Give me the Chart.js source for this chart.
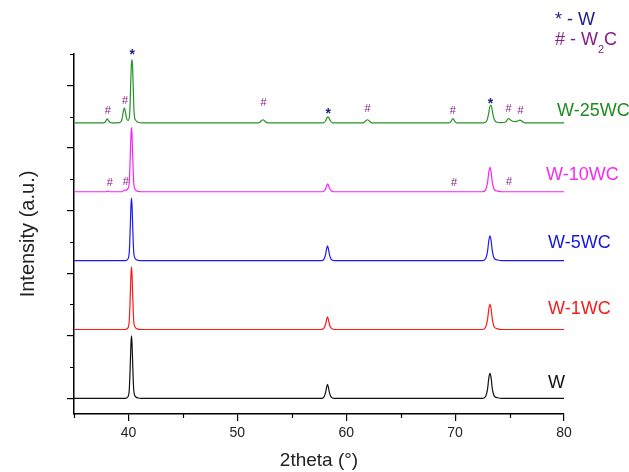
<!DOCTYPE html>
<html>
<head>
<meta charset="utf-8">
<script src="https://cdn.jsdelivr.net/npm/chart.js@4.4.1/dist/chart.umd.min.js"></script>
<style>
  html, body { margin: 0; padding: 0; background: #fff; }
  #wrap { width: 629px; height: 472px; }
</style>
</head>
<body>
<div id="wrap"><canvas id="xrd" width="629" height="472"></canvas></div>
<script>
// Muestras (de abajo hacia arriba) y desplazamiento vertical de cada patrón
const sampleNames = ['W', 'W-1WC', 'W-5WC', 'W-10WC', 'W-25WC'];
const offsets = [0, 2.2, 4.4, 6.6, 8.8];

// Ejes
const xMajorTicks = [40, 50, 60, 70, 80];
const xMinorTicks = [35, 45, 55, 65, 75];
const yMajorTicks = [0, 2, 4, 6, 8, 10];
const yMinorTicks = [1, 3, 5, 7, 9, 11];

// Patrones (2theta, intensidad relativa a su línea base)
const wAngle = [35, 39.7, 39.95, 40.08, 40.17, 40.23, 40.28, 40.33, 40.39, 40.48, 40.62, 40.9, 41.2,
  57.7, 57.95, 58.1, 58.2, 58.28, 58.36, 58.46, 58.62, 58.9,
  72.5, 72.8, 72.98, 73.1, 73.2, 73.3, 73.42, 73.6, 73.9, 74.3, 80];
const wInt = [0, 0, 0.05, 0.3, 1.1, 1.75, 2.0, 1.75, 1.1, 0.3, 0.07, 0.01, 0,
  0, 0.04, 0.18, 0.36, 0.45, 0.36, 0.18, 0.04, 0,
  0, 0.06, 0.3, 0.66, 0.8, 0.66, 0.3, 0.07, 0.02, 0, 0];

const w1Angle = [35, 39.7, 39.95, 40.08, 40.17, 40.23, 40.28, 40.33, 40.39, 40.48, 40.62, 40.9, 41.2,
  57.7, 57.95, 58.1, 58.2, 58.28, 58.36, 58.46, 58.62, 58.9,
  72.5, 72.8, 72.98, 73.1, 73.2, 73.3, 73.42, 73.6, 73.9, 74.3, 80];
const w1Int = [0, 0, 0.05, 0.3, 1.1, 1.75, 2.0, 1.75, 1.1, 0.3, 0.07, 0.01, 0,
  0, 0.04, 0.16, 0.32, 0.4, 0.32, 0.16, 0.04, 0,
  0, 0.07, 0.32, 0.67, 0.8, 0.67, 0.32, 0.08, 0.02, 0, 0];

const w5Angle = [35, 39.7, 39.95, 40.08, 40.17, 40.23, 40.28, 40.33, 40.39, 40.48, 40.62, 40.9, 41.2,
  57.7, 57.95, 58.1, 58.2, 58.28, 58.36, 58.46, 58.62, 58.9,
  72.5, 72.8, 72.98, 73.1, 73.2, 73.3, 73.42, 73.6, 73.9, 74.3, 80];
const w5Int = [0, 0, 0.05, 0.3, 1.1, 1.75, 2.0, 1.75, 1.1, 0.3, 0.07, 0.01, 0,
  0, 0.04, 0.19, 0.38, 0.47, 0.38, 0.19, 0.04, 0,
  0, 0.06, 0.3, 0.65, 0.79, 0.65, 0.3, 0.07, 0.02, 0, 0];

const w10Angle = [35, 37.9, 38.1, 38.3, 39.4, 39.6, 39.75, 39.95, 40.08, 40.17, 40.23, 40.28, 40.33, 40.39, 40.48, 40.62, 40.9, 41.2,
  57.75, 58.0, 58.12, 58.22, 58.3, 58.38, 58.48, 58.62, 58.85,
  72.5, 72.8, 72.98, 73.1, 73.2, 73.3, 73.42, 73.6, 73.9, 74.3, 80];
const w10Int = [0, 0, 0.02, 0, 0, 0.04, 0.05, 0.1, 0.32, 1.15, 1.8, 2.05, 1.8, 1.15, 0.32, 0.07, 0.01, 0,
  0, 0.03, 0.1, 0.2, 0.25, 0.2, 0.1, 0.03, 0,
  0, 0.06, 0.3, 0.64, 0.78, 0.64, 0.3, 0.07, 0.02, 0, 0];

const w25Angle = [35, 37.7, 37.85, 37.95, 38.05, 38.15, 38.3, 38.5,
  39.2, 39.4, 39.52, 39.62, 39.72, 39.85, 39.98, 40.12, 40.2, 40.26, 40.32, 40.38, 40.44, 40.52, 40.67, 40.9, 41.3,
  51.95, 52.15, 52.35, 52.55, 52.75,
  57.9, 58.1, 58.22, 58.32, 58.42, 58.55, 58.75,
  61.55, 61.75, 61.95, 62.15, 62.35,
  69.45, 69.65, 69.8, 69.95, 70.15,
  72.6, 72.9, 73.07, 73.18, 73.27, 73.36, 73.47, 73.62, 73.85, 74.2,
  74.6, 74.8, 74.92, 75.05, 75.3, 75.5, 75.75, 75.95, 76.15, 76.4, 80];
const w25Int = [0, 0, 0.02, 0.08, 0.13, 0.08, 0.02, 0,
  0.01, 0.1, 0.35, 0.48, 0.35, 0.12, 0.08, 0.32, 1.15, 1.8, 2.02, 1.8, 1.15, 0.32, 0.08, 0.02, 0,
  0, 0.05, 0.1, 0.05, 0,
  0, 0.06, 0.15, 0.19, 0.15, 0.06, 0,
  0, 0.05, 0.1, 0.05, 0,
  0, 0.06, 0.14, 0.06, 0,
  0, 0.06, 0.28, 0.5, 0.57, 0.5, 0.28, 0.09, 0.02, 0.01,
  0.02, 0.1, 0.14, 0.1, 0.05, 0.04, 0.06, 0.09, 0.05, 0, 0];

// Marcas de fase (* = W, # = W2C)
const w25MarkAngle = [38.1, 39.7, 40.35, 52.4, 58.35, 61.95, 69.8, 73.25, 74.9, 76.0];
const w25MarkSymbol = ['#', '#', '*', '#', '*', '#', '#', '*', '#', '#'];
const w25MarkLevel = [0.39, 0.71, 2.28, 0.62, 0.42, 0.46, 0.39, 0.72, 0.46, 0.37];
const w10MarkAngle = [38.28, 39.75, 69.9, 74.95];
const w10MarkSymbol = ['#', '#', '#', '#'];
const w10MarkLevel = [0.29, 0.3, 0.29, 0.32];

const FONT = '"Liberation Sans", Arial, sans-serif';
const lineColors = ['#111111', '#f41c1c', '#1c1cf0', '#f526f5', '#269326'];
const textColors = ['#111111', '#f41c1c', '#1818d8', '#f52cf0', '#1e8c1e'];
const STAR_COLOR = '#1c1c86';
const HASH_COLOR = '#86208a';

const angles = [wAngle, w1Angle, w5Angle, w10Angle, w25Angle];
const intensities = [wInt, w1Int, w5Int, w10Int, w25Int];

const datasets = sampleNames.map((name, i) => ({
  label: name,
  data: angles[i].map((a, j) => ({ x: a, y: intensities[i][j] + offsets[i] })),
  borderColor: lineColors[i],
  borderWidth: 1.2,
  pointRadius: 0,
  cubicInterpolationMode: 'monotone',
  fill: false
}));

// Ticks menores (más cortos) dibujados con las escalas del gráfico
const minorTicks = {
  id: 'minorTicks',
  afterDraw(chart) {
    const { ctx, chartArea, scales: { x, y } } = chart;
    ctx.save();
    ctx.strokeStyle = '#000';
    ctx.lineWidth = 1.2;
    ctx.beginPath();
    xMinorTicks.forEach(v => {
      const px = Math.round(x.getPixelForValue(v)) + 0.5;
      ctx.moveTo(px, chartArea.bottom);
      ctx.lineTo(px, chartArea.bottom + 4);
    });
    yMinorTicks.forEach(v => {
      const py = Math.round(y.getPixelForValue(v)) + 0.5;
      ctx.moveTo(chartArea.left, py);
      ctx.lineTo(chartArea.left - 4, py);
    });
    ctx.stroke();
    ctx.restore();
  }
};

// Nombres de muestra, marcas de picos y leyenda de fases
const namePos = [
  { left: 548, rise: 15 },
  { left: 548, rise: 20 },
  { left: 548, rise: 18 },
  { left: 546, rise: 17 },
  { left: 557, rise: 12 }
];

const drawMarks = (ctx, x, y, base, ang, sym, lvl) => {
  ang.forEach((a, k) => {
    const px = x.getPixelForValue(a);
    const py = y.getPixelForValue(base + lvl[k]);
    if (sym[k] === '*') {
      ctx.font = 'bold 14px ' + FONT;
      ctx.fillStyle = STAR_COLOR;
      ctx.fillText('*', px, py + 4);
    } else {
      ctx.font = '11px ' + FONT;
      ctx.fillStyle = HASH_COLOR;
      ctx.fillText('#', px, py);
    }
  });
};

const annotations = {
  id: 'annotations',
  afterDatasetsDraw(chart) {
    const { ctx, scales: { x, y } } = chart;
    ctx.save();
    ctx.textBaseline = 'middle';
    ctx.textAlign = 'left';
    ctx.font = '18px ' + FONT;
    sampleNames.forEach((name, i) => {
      ctx.fillStyle = textColors[i];
      ctx.fillText(name, namePos[i].left, y.getPixelForValue(offsets[i]) - namePos[i].rise);
    });

    ctx.textAlign = 'center';
    drawMarks(ctx, x, y, offsets[4], w25MarkAngle, w25MarkSymbol, w25MarkLevel);
    drawMarks(ctx, x, y, offsets[3], w10MarkAngle, w10MarkSymbol, w10MarkLevel);

    // leyenda "* - W" y "# - W2C"
    ctx.textAlign = 'left';
    ctx.font = '18px ' + FONT;
    ctx.fillStyle = STAR_COLOR;
    ctx.fillText('* - W', 555, 20);
    ctx.fillStyle = HASH_COLOR;
    const head = '# - W';
    ctx.fillText(head, 555, 40);
    const wHead = ctx.measureText(head).width;
    ctx.font = '11px ' + FONT;
    ctx.fillText('2', 555 + wHead, 50);
    const wSub = ctx.measureText('2').width;
    ctx.font = '18px ' + FONT;
    ctx.fillText('C', 555 + wHead + wSub, 40);
    ctx.restore();
  }
};

new Chart(document.getElementById('xrd').getContext('2d'), {
  type: 'line',
  data: { datasets },
  options: {
    responsive: false,
    animation: false,
    layout: { padding: { top: 54, right: 65, left: 0, bottom: 0 } },
    plugins: { legend: { display: false }, tooltip: { enabled: false } },
    scales: {
      x: {
        type: 'linear',
        min: 35,
        max: 80,
        afterBuildTicks: (scale) => { scale.ticks = xMajorTicks.map(v => ({ value: v })); },
        afterFit: (scale) => { scale.height = 58; },
        border: { color: '#000', width: 1.5 },
        grid: { drawOnChartArea: false, drawTicks: true, tickLength: 7, color: '#000', lineWidth: 1.2 },
        ticks: { color: '#222', font: { family: FONT, size: 14 }, padding: 4, maxRotation: 0 },
        title: { display: true, text: '2theta (°)', color: '#222', font: { family: FONT, size: 19 }, padding: { top: 0, bottom: 0 } }
      },
      y: {
        min: -0.5,
        max: 11,
        afterBuildTicks: (scale) => { scale.ticks = yMajorTicks.map(v => ({ value: v })); },
        afterFit: (scale) => { scale.width = 74; },
        border: { color: '#000', width: 1.5 },
        grid: { drawOnChartArea: false, drawTicks: true, tickLength: 7, color: '#000', lineWidth: 1.2 },
        ticks: { display: false },
        title: { display: true, text: 'Intensity (a.u.)', color: '#222', font: { family: FONT, size: 20 }, padding: { top: 16, bottom: 0 } }
      }
    }
  },
  plugins: [minorTicks, annotations]
});
</script>
</body>
</html>
